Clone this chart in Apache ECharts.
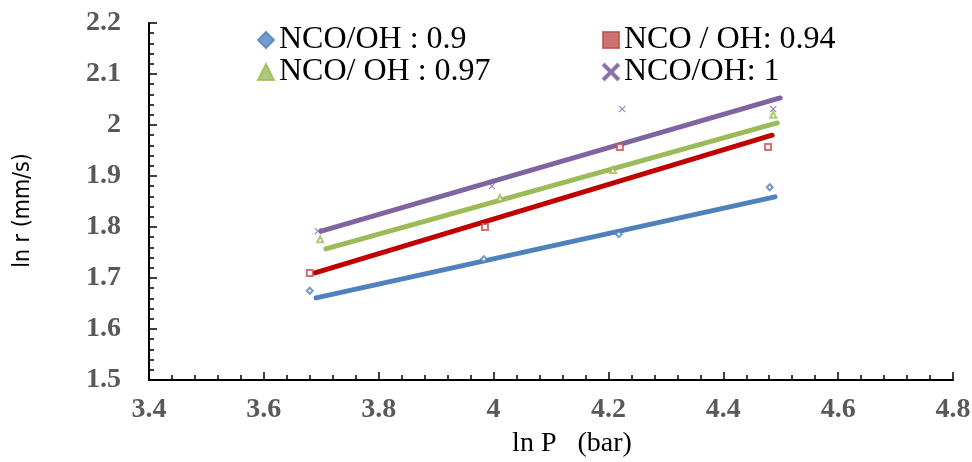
<!DOCTYPE html>
<html>
<head>
<meta charset="utf-8">
<script src="https://cdn.jsdelivr.net/npm/echarts@6/dist/echarts.min.js"></script>
<style>
  html, body { margin: 0; padding: 0; background: #fff; }
  #chart { width: 972px; height: 462px; }
</style>
</head>
<body>
<div id="chart"></div>
<script>
// 读图得到的数据 (ln P, ln r)
const names = ['NCO/OH : 0.9', 'NCO / OH: 0.94', 'NCO/ OH : 0.97', 'NCO/OH: 1'];
const colors = ['#4f81bd', '#c0504d', '#9bbb59', '#8064a2'];
const lineColors = ['#4f81bd', '#c00000', '#9bbb59', '#8064a2'];
const xBlue = [3.68, 3.983, 4.218, 4.481];
const yBlue = [1.675, 1.737, 1.786, 1.878];
const xRed = [3.68, 3.985, 4.22, 4.478];
const yRed = [1.71, 1.80, 1.957, 1.957];
const xGreen = [3.698, 4.011, 4.208, 4.487];
const yGreen = [1.776, 1.857, 1.912, 2.02];
const xPurple = [3.694, 3.997, 4.224, 4.487];
const yPurple = [1.792, 1.880, 2.031, 2.031];

// 趋势线两端 (blue, red, green, purple)
const trendX0 = [3.691, 3.689, 3.708, 3.700];
const trendY0 = [1.661, 1.710, 1.757, 1.792];
const trendX1 = [4.490, 4.485, 4.494, 4.499];
const trendY1 = [1.859, 1.980, 2.004, 2.053];

const xs = [xBlue, xRed, xGreen, xPurple];
const ys = [yBlue, yRed, yGreen, yPurple];
const symbols = ['emptyDiamond', 'emptyRect', 'emptyTriangle', 'path://M0,0L10,10M10,0L0,10'];
const legendIcons = ['diamond', 'rect', 'triangle', 'path://M1,0L5,4L9,0L10,1L6,5L10,9L9,10L5,6L1,10L0,9L4,5L0,1Z'];

const series = [];
for (let i = 0; i < 4; i++) {
  series.push({
    name: names[i],
    type: 'scatter',
    symbol: symbols[i],
    symbolSize: 6,
    itemStyle: { color: colors[i], borderColor: colors[i], borderWidth: 1.2 },
    data: xs[i].map((v, j) => [v, ys[i][j]]),
    z: 3
  });
  series.push({
    name: names[i] + '-trend',
    type: 'line',
    symbol: 'none',
    silent: true,
    lineStyle: { color: lineColors[i], width: 5, cap: 'round' },
    data: [[trendX0[i], trendY0[i]], [trendX1[i], trendY1[i]]],
    z: 2
  });
}

const legendText = { fontFamily: 'Liberation Serif', fontSize: 32, color: '#000' };

const option = {
  animation: false,
  grid: { left: 149, right: 19, top: 23, bottom: 82, outerBoundsMode: 'none', containLabel: false },
  legend: [
    {
      left: 252, top: 19, orient: 'vertical', itemGap: 0,
      itemWidth: 16, itemHeight: 16,
      data: [
        { name: names[0], icon: legendIcons[0], itemStyle: { color: colors[0] } },
        { name: names[2], icon: legendIcons[2], itemStyle: { color: colors[2] } }
      ],
      textStyle: legendText
    },
    {
      left: 597, top: 19, orient: 'vertical', itemGap: 0,
      itemWidth: 16, itemHeight: 16,
      data: [
        { name: names[1], icon: legendIcons[1], itemStyle: { color: colors[1] } },
        { name: names[3], icon: legendIcons[3], itemStyle: { color: colors[3] } }
      ],
      textStyle: legendText
    }
  ],
  xAxis: {
    type: 'value',
    min: 3.4, max: 4.8, interval: 0.2,
    name: 'ln P   (bar)',
    nameLocation: 'middle',
    nameGap: 50,
    nameTextStyle: { fontFamily: 'Liberation Serif', fontSize: 28, color: '#000', padding: [0, 0, 0, 42] },
    axisLine: { onZero: false, lineStyle: { color: '#000', width: 2 } },
    axisTick: { inside: true, length: 8, lineStyle: { color: '#000', width: 1.5 } },
    minorTick: { show: true, splitNumber: 5, length: 5, lineStyle: { color: '#000', width: 1.5 } },
    axisLabel: {
      fontFamily: 'Liberation Serif', fontWeight: 'bold', fontSize: 28, color: '#595959', margin: 16,
      formatter: v => String(+v.toFixed(1))
    },
    splitLine: { show: false }
  },
  yAxis: {
    type: 'value',
    min: 1.5, max: 2.2, interval: 0.1,
    name: 'ln r (mm/s)',
    nameLocation: 'middle',
    nameGap: 114,
    nameTextStyle: { fontFamily: 'DejaVu Sans Condensed', fontSize: 23, color: '#000', padding: [0, 18, 0, 0] },
    axisLine: { onZero: false, lineStyle: { color: '#000', width: 2 } },
    axisTick: { inside: true, length: 8, lineStyle: { color: '#000', width: 1.5 } },
    minorTick: { show: true, splitNumber: 5, length: 5, lineStyle: { color: '#000', width: 1.5 } },
    axisLabel: {
      fontFamily: 'Liberation Serif', fontWeight: 'bold', fontSize: 28, color: '#595959', margin: 28,
      formatter: v => String(+v.toFixed(1))
    },
    splitLine: { show: false }
  },
  series: series
};

const chart = echarts.init(document.getElementById('chart'));
chart.setOption(option);
</script>
</body>
</html>
